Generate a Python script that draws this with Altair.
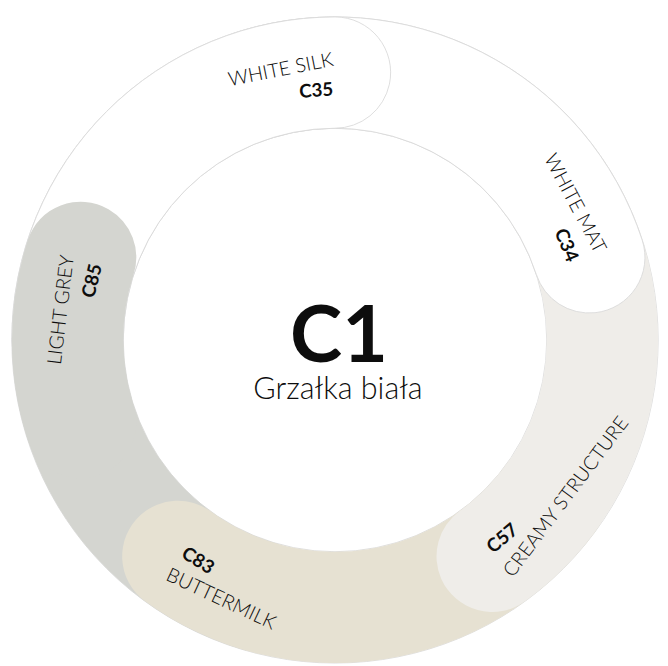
import math
import altair as alt
import pandas as pd

# ---- data -------------------------------------------------------------
names = ["WHITE SILK", "WHITE MAT", "CREAMY STRUCTURE", "BUTTERMILK", "LIGHT GREY"]
codes = ["C35", "C34", "C57", "C83", "C85"]
fills = ["#ffffff", "#ffffff", "#efede9", "#e6e1d2", "#d4d5d0"]
outlined = [True, True, False, False, False]
shares = [1, 1, 1, 1, 1]
center_code = "C1"
center_name = "Grzałka biała"

# ---- geometry / style ------------------------------------------------
CX, CY = 332, 332
R_OUT, R_IN = 328, 215
RC = (R_OUT - R_IN) / 2
CAP = math.degrees(math.asin(RC / (R_IN + RC)))
UNDER = 30          # how far each segment reaches under its predecessor
FONT = "Lato"
NAME_FS, CODE_FS = 20, 19
R_NAME = {False: 282, True: 290}
R_CODE = {False: 254, True: 264}
MARGIN = 0.4

total = sum(shares)
caps = []
acc = 0
for s in shares:
    caps.append(acc / total * 360)      # angle of each segment's rounded end
    acc += s
starts = [c - s / total * 360 for c, s in zip(caps, shares)]

rad = math.radians


def arc_layer(a1, a2, fill, rounded, stroke):
    df = pd.DataFrame({"t1": [rad(a1)], "t2": [rad(a2)]})
    kw = dict(radius=R_OUT, radius2=R_IN, fill=fill)
    if rounded:
        kw["cornerRadius"] = RC
    if stroke:
        kw["stroke"] = "#dadada"
        kw["strokeWidth"] = 0.9
    else:
        kw["strokeWidth"] = 0
    return alt.Chart(df).mark_arc(**kw).encode(
        theta=alt.Theta("t1:Q", scale=None, stack=False),
        theta2=alt.Theta2("t2:Q"),
        x=alt.value(CX),
        y=alt.value(CY),
    )


layers = []
# background ring with thin outline
layers.append(arc_layer(0, 360, "#ffffff", False, True))
n = len(names)
last = n - 1
# body of last segment (flat), lies beneath the one that follows it
layers.append(arc_layer(starts[last] - 20, caps[last] - 10, fills[last], False, outlined[last]))
# remaining segments, each drawn above its clockwise neighbour
for i in range(last - 1, -1, -1):
    layers.append(arc_layer(starts[i] - UNDER, caps[i] + CAP, fills[i], True, outlined[i]))
# rounded end of last segment goes over the first one
layers.append(arc_layer(caps[last] - 48, caps[last] + CAP, fills[last], True, outlined[last]))


def label_rows(texts, rmap, fs, wfac):
    rows = []
    for t, c in zip(texts, caps):
        est = len(t) * wfac * fs
        anchor = c - MARGIN
        guess_mid = (anchor - 10) % 360
        flipped = 90 < guess_mid < 270
        r = rmap[flipped]
        delta = est / 2 / r
        sag = r * (1 - math.cos(delta))
        m = (anchor - math.degrees(delta)) % 360
        rot = (m - 180) % 360 if flipped else m % 360
        rows.append({
            "text": t,
            "th": rad(anchor),
            "r": r + sag / 2,
            "rot": rot,
            "al": "left" if flipped else "right",
        })
    return pd.DataFrame(rows)


def text_layer(df, fs, weight, align):
    sub = df[df["al"] == align]
    return alt.Chart(sub).mark_text(
        font=FONT, fontSize=fs, fontWeight=weight, color="#0d0d0d",
        align=align, baseline="middle",
    ).encode(
        text="text:N",
        theta=alt.Theta("th:Q", scale=None, stack=False),
        radius=alt.Radius("r:Q", scale=None),
        angle=alt.Angle("rot:Q", scale=None),
        x=alt.value(CX),
        y=alt.value(CY),
    )


name_df = label_rows(names, R_NAME, NAME_FS, 0.53)
code_df = label_rows(codes, R_CODE, CODE_FS, 0.62)
for al in ["left", "right"]:
    layers.append(text_layer(name_df, NAME_FS, 300, al))
    layers.append(text_layer(code_df, CODE_FS, "bold", al))

layers.append(
    alt.Chart(pd.DataFrame({"t": [center_code]})).mark_text(
        font=FONT, fontSize=80, fontWeight="bold", color="#0d0d0d",
        align="center", baseline="alphabetic",
    ).encode(text="t:N", x=alt.value(CX + 4), y=alt.value(CY + 22))
)
layers.append(
    alt.Chart(pd.DataFrame({"t": [center_name]})).mark_text(
        font=FONT, fontSize=31, fontWeight=300, color="#0d0d0d",
        align="center", baseline="alphabetic",
    ).encode(text="t:N", x=alt.value(CX + 3), y=alt.value(CY + 60))
)

chart = alt.layer(*layers).properties(
    width=660, height=654, padding=0, background="#ffffff"
).configure_view(stroke=None)

chart.save("out.html", embed_options={"renderer": "svg", "actions": False})
